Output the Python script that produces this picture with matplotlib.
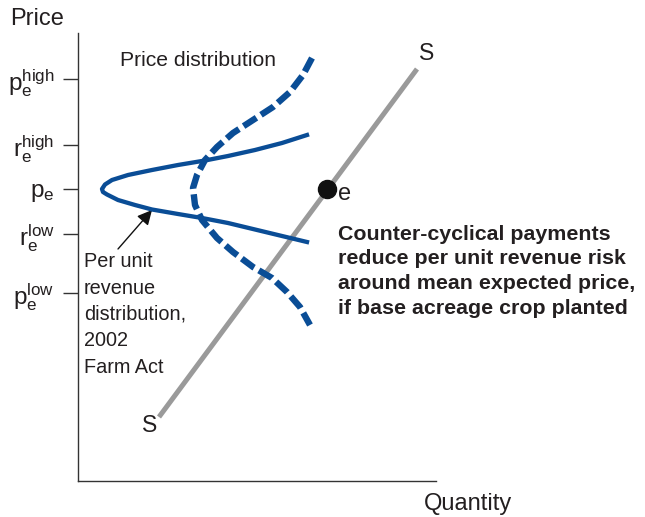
import matplotlib
matplotlib.use("Agg")
import matplotlib.pyplot as plt

plt.rcParams['font.family'] = ['Liberation Sans', 'DejaVu Sans']
plt.rcParams['mathtext.fontset'] = 'custom'
plt.rcParams['mathtext.rm'] = 'Liberation Sans'
plt.rcParams['mathtext.it'] = 'Liberation Sans'

TXT = '#231F20'
BLUE = '#0A4D96'
GRAY = '#9A9A9A'

# y-axis levels and labels
tick_vals = [402, 336, 292, 247, 188]
tick_labels = [r'$\mathrm{p}_{\mathrm{e}}^{\mathrm{high}}$', r'$\mathrm{r}_{\mathrm{e}}^{\mathrm{high}}$',
               r'$\mathrm{p}_{\mathrm{e}}$', r'$\mathrm{r}_{\mathrm{e}}^{\mathrm{low}}$',
               r'$\mathrm{p}_{\mathrm{e}}^{\mathrm{low}}$']

# supply curve S
supply_q = [81, 339]
supply_p = [64, 412]

# equilibrium point e
eq_q = [249]
eq_p = [292]

# price distribution (dashed)
price_q = [234, 225, 212, 195, 175, 155, 139, 127, 119, 115, 117, 124, 139, 155, 175, 194, 209, 222, 232]
price_p = [423, 406, 389, 374, 361, 348, 334, 321, 306, 293, 276, 261, 243, 229, 214, 203, 189, 174, 156]

# per unit revenue distribution (solid)
rev_q = [229, 204, 177, 150, 127, 100, 74, 50, 34, 27, 24, 25, 29, 40, 57, 74, 100, 124, 150, 177, 204, 229]
rev_p = [346, 338, 331, 325, 320.5, 316, 311, 306, 301, 296.5, 292, 289, 286.5, 281, 276, 271.5, 267, 263, 258, 251.5, 245, 239]

fig = plt.figure(figsize=(6.45, 5.17), dpi=100)
ax = fig.add_axes([78/645, 36/517, 358/645, 448/517])
ax.set_xlim(0, 358)
ax.set_ylim(0, 448)

for s in ['top', 'right']:
    ax.spines[s].set_visible(False)
for s in ['left', 'bottom']:
    ax.spines[s].set_linewidth(1.0)
    ax.spines[s].set_color('#333333')

ax.set_xticks([])
ax.set_yticks(tick_vals)
ax.set_yticklabels(tick_labels, fontsize=17.5, color=TXT)
ax.tick_params(axis='y', length=11, width=1.0, color='#333333', pad=6)

ax.plot(supply_q, supply_p, color=GRAY, lw=3.6, solid_capstyle='butt', zorder=2)
ax.plot(price_q, price_p, color=BLUE, lw=4.6, dashes=(2.4, 0.85), zorder=3)
ax.plot(rev_q, rev_p, color=BLUE, lw=3.1, zorder=4)
ax.plot(eq_q, eq_p, 'o', color='#111111', markersize=13, zorder=5)

ax.annotate('', xy=(74, 271), xytext=(40, 232),
            arrowprops=dict(arrowstyle='-|>', color='#111111', lw=1.0,
                            mutation_scale=22, shrinkA=0, shrinkB=0))

ax.text(-68, 462, 'Price', fontsize=17, color=TXT, ha='left', va='center')
ax.text(390, -23, 'Quantity', fontsize=17, color=TXT, ha='center', va='center')
ax.text(42, 420, 'Price distribution', fontsize=15.2, color=TXT, ha='left', va='center')
ax.text(6, 229, 'Per unit\nrevenue\ndistribution,\n2002\nFarm Act', fontsize=14.3,
        color=TXT, ha='left', va='top', linespacing=1.5)
ax.text(260, 256.5, 'Counter-cyclical payments\nreduce per unit revenue risk\naround mean expected price,\nif base acreage crop planted',
        fontsize=15.4, fontweight='bold', color=TXT, ha='left', va='top', linespacing=1.38)
ax.text(349, 428, 'S', fontsize=16.5, color=TXT, ha='center', va='center')
ax.text(72, 55, 'S', fontsize=16.5, color=TXT, ha='center', va='center')
ax.text(267, 287, 'e', fontsize=17, color=TXT, ha='center', va='center')

fig.savefig('out.png', dpi=100)
